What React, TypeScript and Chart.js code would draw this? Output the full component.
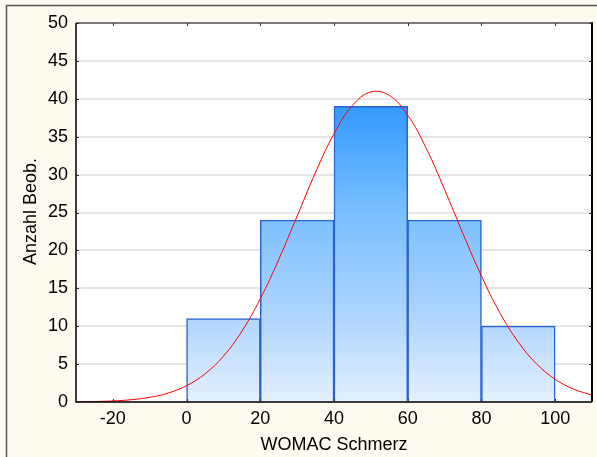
import { useEffect, useRef } from "react";
import { Chart, registerables } from "chart.js";

Chart.register(...registerables);

// Histogram bins (lower edges) and observed counts
const binStarts = [0, 20, 40, 60, 80];
const binWidth = 20;
const binCounts = [11, 24, 39, 24, 10];

// Fitted normal curve, sampled every 5 units
const curveX = [-30, -25, -20, -15, -10, -5, 0, 5, 10, 15, 20, 25, 30, 35, 40, 45, 50, 55, 60, 65, 70, 75, 80, 85, 90, 95, 100, 105, 110];
const curveY = [0.03, 0.06, 0.14, 0.3, 0.61, 1.18, 2.15, 3.71, 6.05, 9.33, 13.62, 18.79, 24.53, 30.3, 35.39, 39.12, 40.9, 40.45, 37.84, 33.49, 28.03, 22.2, 16.63, 11.78, 7.9, 5.01, 3.0, 1.7, 0.91];

const xTicks = [-20, 0, 20, 40, 60, 80, 100];
const yTicks = [0, 5, 10, 15, 20, 25, 30, 35, 40, 45, 50];

const FONT = "'Liberation Sans', Arial, sans-serif";

const framePlugin = {
  id: "frame",
  beforeDraw(chart: any) {
    const { ctx, width, height, chartArea: a } = chart;
    ctx.save();
    ctx.fillStyle = "#fffaf0";
    ctx.fillRect(0, 0, width, height);
    ctx.fillStyle = "#ffffff";
    ctx.fillRect(a.left, a.top, a.right - a.left, a.bottom - a.top);
    ctx.strokeStyle = "#555555";
    ctx.lineWidth = 1.5;
    ctx.beginPath();
    ctx.moveTo(6.5, height);
    ctx.lineTo(6.5, 5.5);
    ctx.lineTo(width, 5.5);
    ctx.stroke();
    ctx.restore();
  },
  afterDatasetsDraw(chart: any) {
    const { ctx, chartArea: a, scales } = chart;
    const xs = scales.x;
    const ys = scales.y;
    ctx.save();
    // plot borders
    ctx.strokeStyle = "#7a7a7a";
    ctx.lineWidth = 2;
    ctx.beginPath();
    ctx.moveTo(a.left, a.top);
    ctx.lineTo(a.right, a.top);
    ctx.stroke();
    ctx.strokeStyle = "#000000";
    ctx.lineWidth = 1.5;
    ctx.beginPath();
    ctx.moveTo(a.left, a.top);
    ctx.lineTo(a.left, a.bottom);
    ctx.lineTo(a.right, a.bottom);
    ctx.stroke();
    ctx.lineWidth = 2;
    ctx.beginPath();
    ctx.moveTo(a.right, a.top - 1);
    ctx.lineTo(a.right, a.bottom);
    ctx.stroke();
    // inner tick marks
    ctx.strokeStyle = "#333333";
    ctx.lineWidth = 1;
    ctx.beginPath();
    for (const v of xTicks) {
      const px = Math.round(xs.getPixelForValue(v)) + 0.5;
      ctx.moveTo(px, a.top);
      ctx.lineTo(px, a.top + 3);
      ctx.moveTo(px, a.bottom);
      ctx.lineTo(px, a.bottom - 3);
    }
    for (const v of yTicks) {
      const py = Math.round(ys.getPixelForValue(v)) + 0.5;
      ctx.moveTo(a.left, py);
      ctx.lineTo(a.left + 3, py);
      ctx.moveTo(a.right, py);
      ctx.lineTo(a.right - 3, py);
    }
    ctx.stroke();
    ctx.restore();
  },
  afterDraw(chart: any) {
    const { ctx, chartArea: a } = chart;
    ctx.save();
    ctx.fillStyle = "#000000";
    ctx.font = `18px ${FONT}`;
    ctx.textAlign = "center";
    ctx.textBaseline = "alphabetic";
    ctx.fillText("WOMAC Schmerz", (a.left + a.right) / 2, 450);
    ctx.translate(36, (a.top + a.bottom) / 2 - 1);
    ctx.rotate(-Math.PI / 2);
    ctx.fillText("Anzahl Beob.", 0, 0);
    ctx.restore();
  },
};

function barGradient(ctx: any) {
  const chart = ctx.chart;
  const a = chart.chartArea;
  if (!a) return "#7ab8ff";
  const g = chart.ctx.createLinearGradient(0, a.top, 0, a.bottom);
  g.addColorStop(0, "rgb(40,145,255)");
  g.addColorStop(0.216, "rgb(51,153,255)");
  g.addColorStop(0.493, "rgb(120,190,255)");
  g.addColorStop(0.776, "rgb(175,213,255)");
  g.addColorStop(1, "rgb(228,240,253)");
  return g;
}

export default function App() {
  const canvasRef = useRef<HTMLCanvasElement | null>(null);

  useEffect(() => {
    if (!canvasRef.current) return;
    const bars = binStarts.map((s, i) => ({ x: s + binWidth / 2, y: binCounts[i] }));
    const curve = curveX.map((x, i) => ({ x, y: curveY[i] }));
    const chart = new Chart(canvasRef.current, {
      type: "bar",
      data: {
        datasets: [
          {
            type: "line",
            data: curve,
            borderColor: "#ff0000",
            borderWidth: 1,
            pointRadius: 0,
            tension: 0.4,
            order: 0,
          } as any,
          {
            type: "bar",
            data: bars,
            backgroundColor: barGradient,
            borderColor: "#2a62cf",
            borderWidth: 1.5,
            barPercentage: 1,
            categoryPercentage: 1,
            order: 1,
          } as any,
        ],
      },
      options: {
        responsive: false,
        animation: false,
        devicePixelRatio: 1,
        layout: { padding: { left: 0, top: 23, right: 5, bottom: 0 } },
        plugins: { legend: { display: false }, tooltip: { enabled: false } },
        scales: {
          x: {
            type: "linear",
            min: -30,
            max: 110,
            offset: false,
            afterBuildTicks: (s: any) => {
              s.ticks = xTicks.map((v) => ({ value: v }));
            },
            afterFit: (s: any) => {
              s.height = 55;
            },
            grid: { display: false, drawTicks: false, offset: false },
            border: { display: false },
            ticks: { color: "#000", font: { family: FONT, size: 18 }, padding: 6, maxRotation: 0 },
          },
          y: {
            type: "linear",
            min: 0,
            max: 50,
            afterBuildTicks: (s: any) => {
              s.ticks = yTicks.map((v) => ({ value: v }));
            },
            afterFit: (s: any) => {
              s.width = 76;
            },
            grid: { color: "#e6e6e6", lineWidth: 2, drawTicks: false },
            border: { display: false },
            ticks: { color: "#000", font: { family: FONT, size: 18 }, padding: 8 },
          },
        },
      },
      plugins: [framePlugin],
    });
    return () => chart.destroy();
  }, []);

  return (
    <div style={{ position: "absolute", left: 0, top: 0, width: 597, height: 457 }}>
      <canvas ref={canvasRef} width={597} height={457} style={{ display: "block" }} />
    </div>
  );
}
